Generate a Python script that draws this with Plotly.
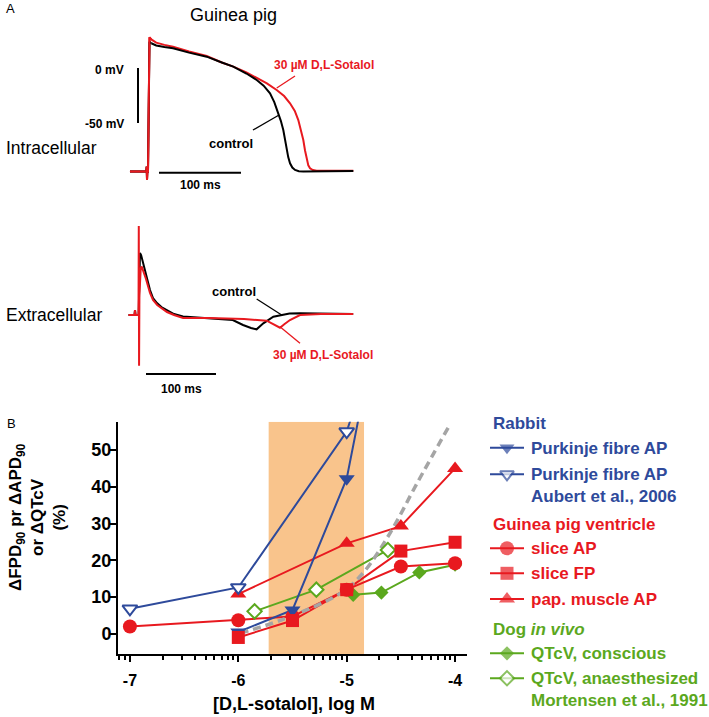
import numpy as np
import plotly.graph_objects as go

W, H = 709, 717
FONT = "Liberation Sans, Arial, Helvetica, sans-serif"
BLUE = "#2E4A9B"
RED = "#E8191F"
GREEN = "#5BA81E"
ORANGE = "#F9C48C"
GRAY = "#A5A5A5"
BLACK = "#000000"

# ---------------- Panel A data (ms, mV) ----------------
intra_t_ctrl = [-22, -2, -1.6, -1.2, -0.8, 0, 0.8, 1.8, 4, 10, 20, 30.5, 50, 71.6, 90, 104, 120,
                132.6, 141, 148.8, 154, 158.9, 162, 165, 167, 169.1, 171, 173.2, 176, 179.3,
                184, 189.4, 250.4]
intra_v_ctrl = [-94, -94, -89.7, -101.8, -94, -94, -20, 23.9, 22.5, 20.5, 19, 17.9, 14, 10.3, 5,
                1.2, -5, -10.9, -16, -23, -31, -41.2, -48, -56.4, -65, -74.5, -81, -86.6, -90.5,
                -92.7, -93.8, -94, -93.6]
intra_t_sot = [-22, -2, -1.6, -1.2, -0.8, 0, 0.8, 1.8, 4, 10, 20, 30.5, 50, 71.6, 90, 104, 120,
               132.6, 145, 156.9, 166, 173.2, 179, 183.3, 186.5, 189.4, 191.5, 193.5, 195.5,
               197.6, 201, 205.7, 250.4]
intra_v_sot = [-94, -94, -89.7, -101.8, -94, -94, -20, 27.9, 26, 23, 21, 19.4, 15, 10.9, 5, 1.2,
               -4, -9.4, -14, -20, -25.5, -32.1, -39, -47.3, -56, -65.5, -75, -83.6, -88.5,
               -91.2, -92.8, -93.4, -93.4]

extra_t_ctrl = [-15, -6.5, -5.7, -4.9, -0.5, 0.5, 1.4, 3, 5.7, 10, 15.7, 20, 25.7, 32, 39.6, 50,
                62.9, 90, 120, 134, 148.6, 160, 168, 177.6, 191.9, 203.8, 215, 230, 260, 306]
extra_u_ctrl = [0, 0, 5, 0, 0, 30, 62, 60, 53, 40, 25, 17, 12, 8, 5, 1, -1.5, -3, -4, -5, -10, -13,
                -14.3, -8.3, -1.7, 0, 1.5, 1.7, 1.5, 1]
extra_t_sot = [-15, -6.5, -5.7, -4.9, -0.7, -0.3, 0.1, 0.6, 2.5, 3.9, 6, 10, 15.7, 20, 26, 40, 50,
               63, 100, 150, 182.4, 192, 201.4, 208, 215.7, 230, 260, 306]
extra_u_sot = [0, 0, 5, 0, 0, 89, -50.7, 20, 47, 48.3, 44, 36, 22, 15, 10, 3, 0, -3, -3, -4, -5.7,
               -9, -12.7, -9, -5, 0, 1, 1]

scale_mv = [0, -50]
scale_ms = [0, 100]

# ---------------- Panel B data (log M, %) ----------------
purk_x = [-6, -5.5, -5, -4.5]
purk_y = [0.5, 6.5, 42.2, 117]
aub_x = [-7, -6, -5, -4.5]
aub_y = [6.8, 12.6, 55, 100]
sap_x = [-7, -6, -5.5, -5, -4.5, -4]
sap_y = [2.0, 3.7, 4.7, 12, 18.3, 19.2]
sfp_x = [-6, -5.5, -5, -4.5, -4]
sfp_y = [-1, 3.6, 12, 22.5, 24.9]
pap_x = [-6, -5, -4.5, -4]
pap_y = [10.8, 24.6, 29.3, 45]
dogc_x = [-4.94, -4.68, -4.33, -4.0]
dogc_y = [10.6, 11.2, 16.7, 18.8]
doga_x = [-5.85, -5.28, -4.62]
doga_y = [6.1, 12, 22.8]
trend_x = [-5.98, -5.6, -5.06, -4.85, -4.6, -4.35, -4.05]
trend_y = [0.2, 3.8, 11, 16.5, 27.4, 41, 56.8]
window_x = [-5.72, -4.84]
x_ticks = [-7, -6, -5, -4]
y_ticks = [0, 10, 20, 30, 40, 50]


def fx(p):
    return p / W


def fy(p):
    return 1 - p / H


fig = go.Figure()

# ---- Panel A: intracellular ----
line_kw = dict(mode="lines", hoverinfo="skip", showlegend=False)
fig.add_trace(go.Scatter(x=intra_t_sot, y=intra_v_sot, line=dict(color=RED, width=2),
                         xaxis="x2", yaxis="y2", **line_kw))
fig.add_trace(go.Scatter(x=intra_t_ctrl[8:], y=intra_v_ctrl[8:], line=dict(color=BLACK, width=2),
                         xaxis="x2", yaxis="y2", **line_kw))
fig.add_trace(go.Scatter(x=intra_t_ctrl[:9], y=intra_v_ctrl[:9], line=dict(color=BLACK, width=2),
                         xaxis="x2", yaxis="y2", **line_kw))
fig.add_trace(go.Scatter(x=intra_t_sot[:9], y=intra_v_sot[:9], line=dict(color=RED, width=2),
                         xaxis="x2", yaxis="y2", **line_kw))
fig.add_trace(go.Scatter(x=[-12.2, -12.2], y=scale_mv, line=dict(color=BLACK, width=2),
                         xaxis="x2", yaxis="y2", **line_kw))
fig.add_trace(go.Scatter(x=[13.4 + v for v in scale_ms], y=[-95.2, -95.2],
                         line=dict(color=BLACK, width=2), xaxis="x2", yaxis="y2", **line_kw))
# leader lines
fig.add_trace(go.Scatter(x=[157, 179.3], y=[-18.2, -7.3], line=dict(color=RED, width=1.3),
                         xaxis="x2", yaxis="y2", **line_kw))
fig.add_trace(go.Scatter(x=[128, 159.8], y=[-56.4, -42.7], line=dict(color=BLACK, width=1.3),
                         xaxis="x2", yaxis="y2", **line_kw))

# ---- Panel A: extracellular ----
fig.add_trace(go.Scatter(x=extra_t_ctrl, y=extra_u_ctrl, line=dict(color=BLACK, width=2),
                         xaxis="x3", yaxis="y3", **line_kw))
fig.add_trace(go.Scatter(x=extra_t_sot, y=extra_u_sot, line=dict(color=RED, width=2),
                         xaxis="x3", yaxis="y3", **line_kw))
fig.add_trace(go.Scatter(x=[10 + v for v in scale_ms], y=[-59, -59], line=dict(color=BLACK, width=2),
                         xaxis="x3", yaxis="y3", **line_kw))
fig.add_trace(go.Scatter(x=[168.1, 203.9], y=[16, 0], line=dict(color=BLACK, width=1.3),
                         xaxis="x3", yaxis="y3", **line_kw))
fig.add_trace(go.Scatter(x=[201.4, 230], y=[-11.7, -28.3], line=dict(color=RED, width=1.3),
                         xaxis="x3", yaxis="y3", **line_kw))

# ---- Panel B ----
series = [
    dict(x=dogc_x, y=dogc_y, color=GREEN, symbol="diamond", size=11, fill=GREEN, name="QTcV, conscious"),
    dict(x=doga_x, y=doga_y, color=GREEN, symbol="diamond", size=11, fill="white", name="QTcV, anaesthesized"),
    dict(x=sap_x, y=sap_y, color=RED, symbol="circle", size=14, fill=RED, name="slice AP"),
    dict(x=pap_x, y=pap_y, color=RED, symbol="triangle-up", size=14, fill=RED, name="pap. muscle AP"),
    dict(x=aub_x, y=aub_y, color=BLUE, symbol="triangle-down", size=13, fill="white", name="Purkinje fibre AP (Aubert)"),
    dict(x=purk_x, y=purk_y, color=BLUE, symbol="triangle-down", size=14, fill=BLUE, name="Purkinje fibre AP"),
    dict(x=sfp_x, y=sfp_y, color=RED, symbol="square", size=13, fill=RED, name="slice FP"),
]
# connecting lines first
for s in series:
    fig.add_trace(go.Scatter(x=s["x"], y=s["y"], mode="lines", showlegend=False, hoverinfo="skip",
                             line=dict(color=s["color"], width=2)))
# trend (dashed) over the lines
fig.add_trace(go.Scatter(x=trend_x, y=trend_y, mode="lines", showlegend=False, hoverinfo="skip",
                         line=dict(color=GRAY, width=3.5, dash="8px,5px", shape="spline")))
# markers on top
for s in series:
    fig.add_trace(go.Scatter(
        x=s["x"], y=s["y"], mode="markers", name=s["name"], showlegend=False,
        marker=dict(symbol=s["symbol"], size=s["size"], color=s["fill"],
                    line=dict(color=s["color"], width=2 if s["fill"] == "white" else 0))))

# ---- Manual legend glyphs (pixel-unit overlay axis) ----
leg_rows = [
    (447.7, BLUE, "triangle-down", 13, BLUE),
    (474.3, BLUE, "triangle-down", 12, "white"),
    (548.3, RED, "circle", 14, RED),
    (573.3, RED, "square", 13, RED),
    (599.0, RED, "triangle-up", 14, RED),
    (653.3, GREEN, "diamond", 11, GREEN),
    (678.3, GREEN, "diamond", 11, "white"),
]
for yy, col, sym, sz, fill in leg_rows:
    fig.add_trace(go.Scatter(
        x=[490, 507, 524], y=[yy, yy, yy], xaxis="x4", yaxis="y4", mode="lines+markers",
        showlegend=False, hoverinfo="skip", line=dict(color=col, width=2),
        marker=dict(symbol=sym, size=[0, sz, 0], color=fill,
                    line=dict(color=col, width=2 if fill == "white" else 0))))

ann = []


def add_text(x, y, text, size, color=BLACK, bold=False, xanchor="center", align="center", angle=0):
    ann.append(dict(x=fx(x), y=fy(y), xref="paper", yref="paper", text=text, showarrow=False,
                    xanchor=xanchor, yanchor="middle", align=align, textangle=angle,
                    font=dict(family=FONT, size=size, color=color,
                              weight="bold" if bold else "normal")))


add_text(4, 9, "A", 13, xanchor="left")
add_text(233, 15, "Guinea pig", 18)
add_text(126, 70, "0 mV", 12, bold=True, xanchor="right")
add_text(126, 124, "-50 mV", 12, bold=True, xanchor="right")
add_text(200.5, 185, "100 ms", 12, bold=True)
add_text(324, 65, "30 µM D,L-Sotalol", 12, color=RED, bold=True)
add_text(231, 143, "control", 13, bold=True)
add_text(4, 148, "Intracellular", 17.5, xanchor="left")
add_text(4, 315, "Extracellular", 17.5, xanchor="left")
add_text(234, 291, "control", 13, bold=True)
add_text(323, 355, "30 µM D,L-Sotalol", 12, color=RED, bold=True)
add_text(181.7, 389, "100 ms", 12, bold=True)

add_text(5, 423, "B", 13, xanchor="left")
add_text(37, 517, "ΔFPD<sub>90</sub> pr ΔAPD<sub>90</sub><br>or ΔQTcV<br>(%)", 17, bold=True, angle=-90)
add_text(293.5, 704, "[D,L-sotalol], log M", 18, bold=True)

add_text(490.5, 423, "Rabbit", 17, color=BLUE, bold=True, xanchor="left")
add_text(529, 448, "Purkinje fibre AP", 17, color=BLUE, bold=True, xanchor="left")
add_text(529, 485, "Purkinje fibre AP<br>Aubert et al., 2006", 17, color=BLUE, bold=True,
         xanchor="left", align="left")
add_text(490.5, 524, "Guinea pig ventricle", 17, color=RED, bold=True, xanchor="left")
add_text(529, 548.5, "slice AP", 17, color=RED, bold=True, xanchor="left")
add_text(529, 573.5, "slice FP", 17, color=RED, bold=True, xanchor="left")
add_text(529, 599, "pap. muscle AP", 17, color=RED, bold=True, xanchor="left")
add_text(490.5, 629.5, "Dog <i>in vivo</i>", 17, color=GREEN, bold=True, xanchor="left")
add_text(529, 653.5, "QTcV, conscious", 17, color=GREEN, bold=True, xanchor="left")
add_text(529, 689, "QTcV, anaesthesized<br>Mortensen et al., 1991", 17, color=GREEN, bold=True,
         xanchor="left", align="left")

minor_vals = [n + np.log10(k) for n in range(-8, -3) for k in range(2, 10)]
minor_vals = [v for v in minor_vals if -7.11 < v < -3.89]

hidden = dict(visible=False, showgrid=False, zeroline=False, fixedrange=True)

fig.update_layout(
    width=W, height=H, margin=dict(l=0, r=0, t=0, b=0),
    paper_bgcolor="white", plot_bgcolor="rgba(0,0,0,0)",
    font=dict(family=FONT, color=BLACK),
    showlegend=False,
    annotations=ann,
    shapes=[dict(type="rect", xref="x", yref="y", x0=window_x[0], x1=window_x[1],
                 y0=-5.5, y1=57.7, fillcolor=ORANGE, line=dict(width=0), layer="below")],
    xaxis=dict(domain=[fx(118), fx(467)], range=[-7.11, -3.89], anchor="y",
               tickvals=x_ticks, ticktext=[str(v) for v in x_ticks],
               ticks="outside", ticklen=6, tickwidth=2, tickcolor=BLACK,
               showline=True, linewidth=2, linecolor=BLACK, showgrid=False, zeroline=False,
               ticklabelstandoff=5,
               tickfont=dict(family=FONT, size=16, color=BLACK, weight="bold"),
               minor=dict(tickmode="array", tickvals=minor_vals, ticks="outside", ticklen=4,
                          tickwidth=1.5, tickcolor=BLACK, showgrid=False)),
    yaxis=dict(domain=[fy(654), fy(421.7)], range=[-5.5, 57.7], anchor="x",
               tickvals=y_ticks, ticks="outside", ticklen=6, tickwidth=2, tickcolor=BLACK,
               showline=True, linewidth=2, linecolor=BLACK, showgrid=False, zeroline=False,
               ticklabelstandoff=-5,
               tickfont=dict(family=FONT, size=18, color=BLACK, weight="bold")),
    xaxis2=dict(domain=[fx(100), fx(400)], range=[(100 - 148) / 0.82, (400 - 148) / 0.82],
                anchor="y2", **hidden),
    yaxis2=dict(domain=[fy(200), fy(20)], range=[(68 - 200) / 1.1, (68 - 20) / 1.1],
                anchor="x2", **hidden),
    xaxis3=dict(domain=[fx(100), fx(400)], range=[(100 - 139) / 0.7, (400 - 139) / 0.7],
                anchor="y3", **hidden),
    yaxis3=dict(domain=[fy(400), fy(210)], range=[315 - 400, 315 - 210], anchor="x3", **hidden),
    xaxis4=dict(domain=[fx(480), fx(535)], range=[480, 535], anchor="y4", **hidden),
    yaxis4=dict(domain=[fy(710), fy(415)], range=[710, 415], anchor="x4", **hidden),
)

fig.write_html("out.html", config={"displayModeBar": False},
               post_script="document.body.style.margin='0px';document.body.style.padding='0px';")
